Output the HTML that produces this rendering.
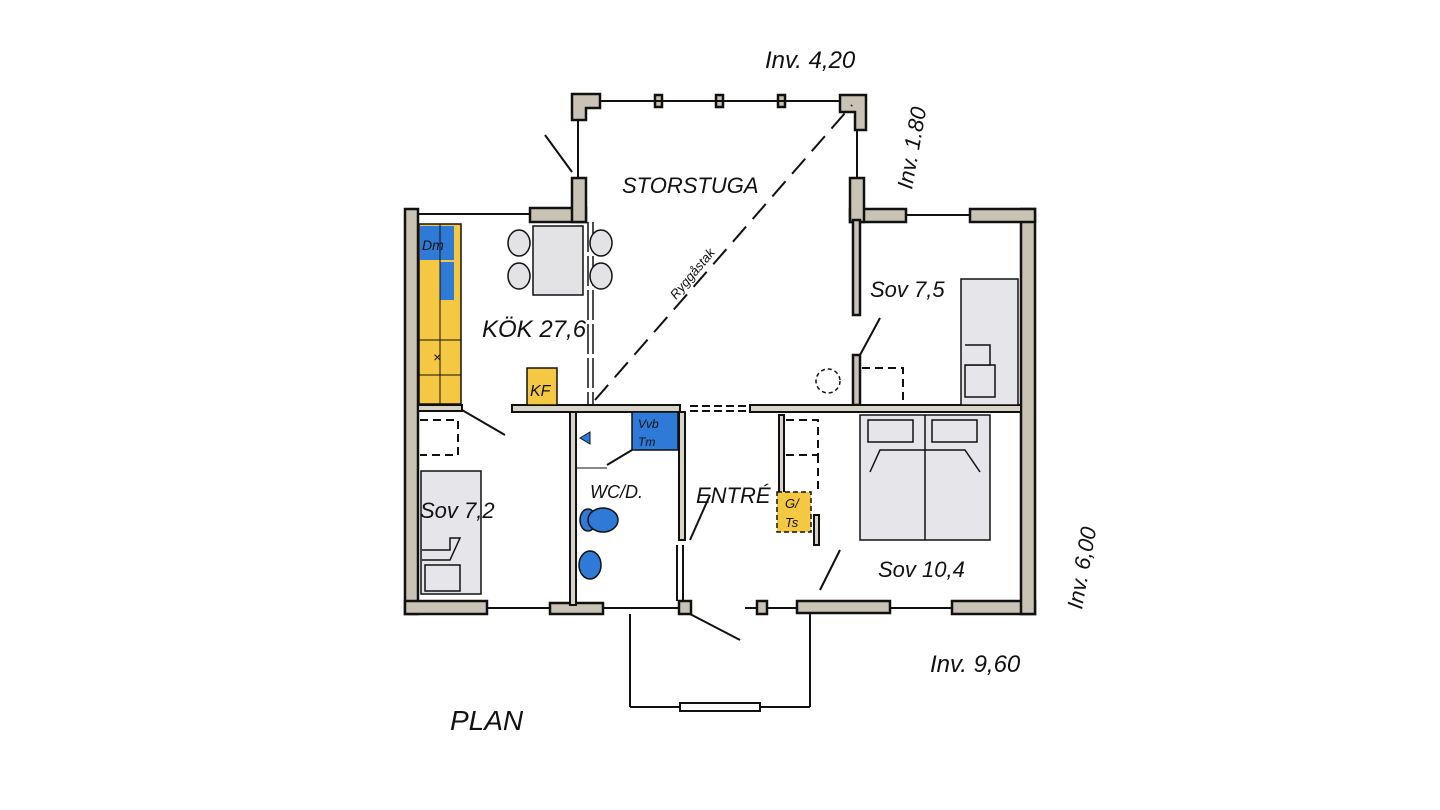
<!DOCTYPE html>
<html><head><meta charset="utf-8"><style>
html,body{margin:0;padding:0;background:#fff;}
svg{display:block}
text{font-family:"Liberation Sans",sans-serif;font-style:italic;fill:#111;}
</style></head><body>
<svg width="1440" height="810" viewBox="0 0 1440 810" xmlns="http://www.w3.org/2000/svg">
<g stroke="#111" stroke-width="2" fill="none">
<g fill="#c9c3b6" stroke="#111" stroke-width="2.5">
<rect x="405" y="209" width="13" height="405"/>
<rect x="405" y="601" width="82" height="13"/>
<rect x="550" y="603" width="53" height="11"/>
<rect x="679" y="601" width="12" height="13"/>
<rect x="757" y="601" width="10" height="13"/>
<rect x="797" y="601" width="93" height="12"/>
<rect x="952" y="601" width="83" height="13"/>
<rect x="1021" y="209" width="14" height="405"/>
<rect x="970" y="209" width="65" height="13"/>
<rect x="850" y="209" width="56" height="13"/>
<rect x="850" y="178" width="14" height="44"/>
<rect x="530" y="208" width="56" height="14"/>
<rect x="572" y="178" width="14" height="44"/>
<path d="M572 94 H600 V108 H586 V120 H572 Z"/>
<path d="M840 95 H866 V130 H855 V112 H840 Z"/>
<rect x="655" y="95" width="7" height="12"/>
<rect x="716" y="95" width="7" height="12"/>
<rect x="778" y="95" width="7" height="12"/>
<rect x="853" y="220" width="7" height="95"/>
<rect x="853" y="355" width="7" height="50"/>
</g>
<line x1="600" y1="101" x2="840" y2="101"/>
<line x1="578" y1="120" x2="578" y2="178"/>
<line x1="857" y1="130" x2="857" y2="178"/>
<line x1="418" y1="214" x2="530" y2="214"/>
<line x1="906" y1="215" x2="970" y2="215"/>
<line x1="487" y1="608" x2="550" y2="608"/>
<line x1="603" y1="608" x2="679" y2="608"/>
<line x1="745" y1="608" x2="757" y2="608"/>
<line x1="767" y1="608" x2="797" y2="608"/>
<line x1="890" y1="608" x2="952" y2="608"/>
<line x1="545" y1="135" x2="572" y2="172"/>
<g fill="#d8d3c8" stroke="#111" stroke-width="2">
<rect x="512" y="405" width="168" height="7"/>
<rect x="750" y="405" width="271" height="7"/>
<rect x="418" y="405" width="44" height="6"/>
<rect x="570" y="412" width="6" height="193"/>
<rect x="679" y="412" width="6" height="128"/>
<rect x="779" y="415" width="5" height="95"/>
<rect x="814" y="515" width="5" height="30"/>
</g>
<line x1="690" y1="406" x2="748" y2="406" stroke-dasharray="8,4"/>
<line x1="690" y1="411" x2="748" y2="411" stroke-dasharray="8,4"/>
<line x1="588" y1="222" x2="588" y2="405" stroke-dasharray="30,4" stroke-width="1.5"/>
<line x1="593" y1="222" x2="593" y2="405" stroke-dasharray="30,4" stroke-width="1.5"/>
<line x1="677" y1="545" x2="677" y2="601"/>
<line x1="683" y1="545" x2="683" y2="601"/>
<line x1="595" y1="400" x2="852" y2="105" stroke-dasharray="20,10"/>
<line x1="462" y1="410" x2="505" y2="435"/>
<line x1="607" y1="465" x2="632" y2="450"/>
<line x1="690" y1="540" x2="710" y2="495"/>
<line x1="690" y1="614" x2="740" y2="640"/>
<line x1="820" y1="590" x2="840" y2="550"/>
<line x1="860" y1="355" x2="880" y2="318"/>
<path d="M420 420 H458 V455 H420" stroke-dasharray="8,5"/>
<path d="M786 420 H818 V455 H786 M818 455 V490" stroke-dasharray="8,5"/>
<path d="M862 368 H903 V405" stroke-dasharray="8,5"/>
<circle cx="828" cy="381" r="12" stroke-dasharray="4,3" stroke-width="1.5"/>
<line x1="630" y1="614" x2="630" y2="707"/>
<line x1="810" y1="614" x2="810" y2="707"/>
<line x1="630" y1="707" x2="680" y2="707"/>
<line x1="760" y1="707" x2="810" y2="707"/>
<rect x="680" y="703" width="80" height="8" fill="#fff"/>
</g>
<rect x="419" y="224" width="42" height="180" fill="#f4c843" stroke="#111" stroke-width="1.5"/>
<rect x="420" y="226" width="34" height="34" fill="#2e7ad6"/>
<rect x="440" y="262" width="14" height="38" fill="#2e7ad6"/>
<line x1="440" y1="224" x2="440" y2="404" stroke="#111"/>
<line x1="419" y1="340" x2="461" y2="340" stroke="#111"/>
<line x1="419" y1="375" x2="461" y2="375" stroke="#111"/>
<text x="422" y="250" font-size="14">Dm</text>
<text x="433" y="362" font-size="14" font-style="normal">×</text>
<rect x="533" y="226" width="50" height="69" fill="#e3e3e6" stroke="#111" stroke-width="1.5"/>
<g fill="#e3e3e6" stroke="#111" stroke-width="1.5">
<ellipse cx="519" cy="243" rx="11" ry="13"/><ellipse cx="519" cy="276" rx="11" ry="13"/>
<ellipse cx="601" cy="243" rx="11" ry="13"/><ellipse cx="601" cy="276" rx="11" ry="13"/>
</g>
<rect x="527" y="368" width="30" height="37" fill="#f4c843" stroke="#111" stroke-width="1.5"/>
<text x="530" y="396" font-size="16">KF</text>
<rect x="632" y="412" width="46" height="38" fill="#2e7ad6" stroke="#111" stroke-width="1.5"/>
<text x="638" y="428" font-size="12">Vvb</text><text x="638" y="446" font-size="12">Tm</text>
<rect x="777" y="492" width="34" height="40" fill="#f4c843" stroke="#111" stroke-width="1.5" stroke-dasharray="5,3"/>
<text x="785" y="508" font-size="13">G/</text><text x="785" y="527" font-size="13">Ts</text>
<g fill="#2e7ad6" stroke="#111" stroke-width="1.5">
<ellipse cx="588" cy="520" rx="8" ry="11"/><ellipse cx="603" cy="520" rx="15" ry="12"/>
<ellipse cx="590" cy="565" rx="11" ry="14"/>
</g>
<path d="M580 438 L590 432 L590 444 Z" fill="#2e7ad6" stroke="#111"/>
<line x1="576" y1="468" x2="607" y2="468" stroke="#111"/>
<g fill="#e6e6ea" stroke="#111" stroke-width="1.5">
<rect x="961" y="279" width="57" height="126"/>
<rect x="965" y="365" width="30" height="32"/>
<path d="M965 345 L990 345 L990 365 L965 365"/>
<rect x="860" y="415" width="130" height="125"/>
<rect x="868" y="420" width="45" height="22"/><rect x="932" y="420" width="45" height="22"/>
<path d="M870 472 L880 450 L965 450 L980 472"/>
<line x1="925" y1="415" x2="925" y2="540"/>
<rect x="421" y="471" width="60" height="123"/>
<rect x="425" y="565" width="35" height="26"/>
<path d="M422 550 H450 V538 L460 538 L450 560 H422"/>
</g>
<text x="622" y="193" font-size="22">STORSTUGA</text>
<text x="482" y="337" font-size="24">KÖK 27,6</text>
<text x="870" y="297" font-size="22">Sov 7,5</text>
<text x="420" y="518" font-size="22">Sov 7,2</text>
<text x="590" y="498" font-size="18">WC/D.</text>
<text x="696" y="503" font-size="22">ENTRÉ</text>
<text x="878" y="577" font-size="22">Sov 10,4</text>
<text x="765" y="68" font-size="24">Inv. 4,20</text>
<text x="930" y="672" font-size="24">Inv. 9,60</text>
<text x="450" y="730" font-size="28">PLAN</text>
<text font-size="13" transform="translate(676,300) rotate(-50)">Ryggåstak</text>
<text font-size="22" transform="translate(912,190) rotate(-80)">Inv. 1.80</text>
<text font-size="22" transform="translate(1082,610) rotate(-80)">Inv. 6,00</text>
</svg>
</body></html>
